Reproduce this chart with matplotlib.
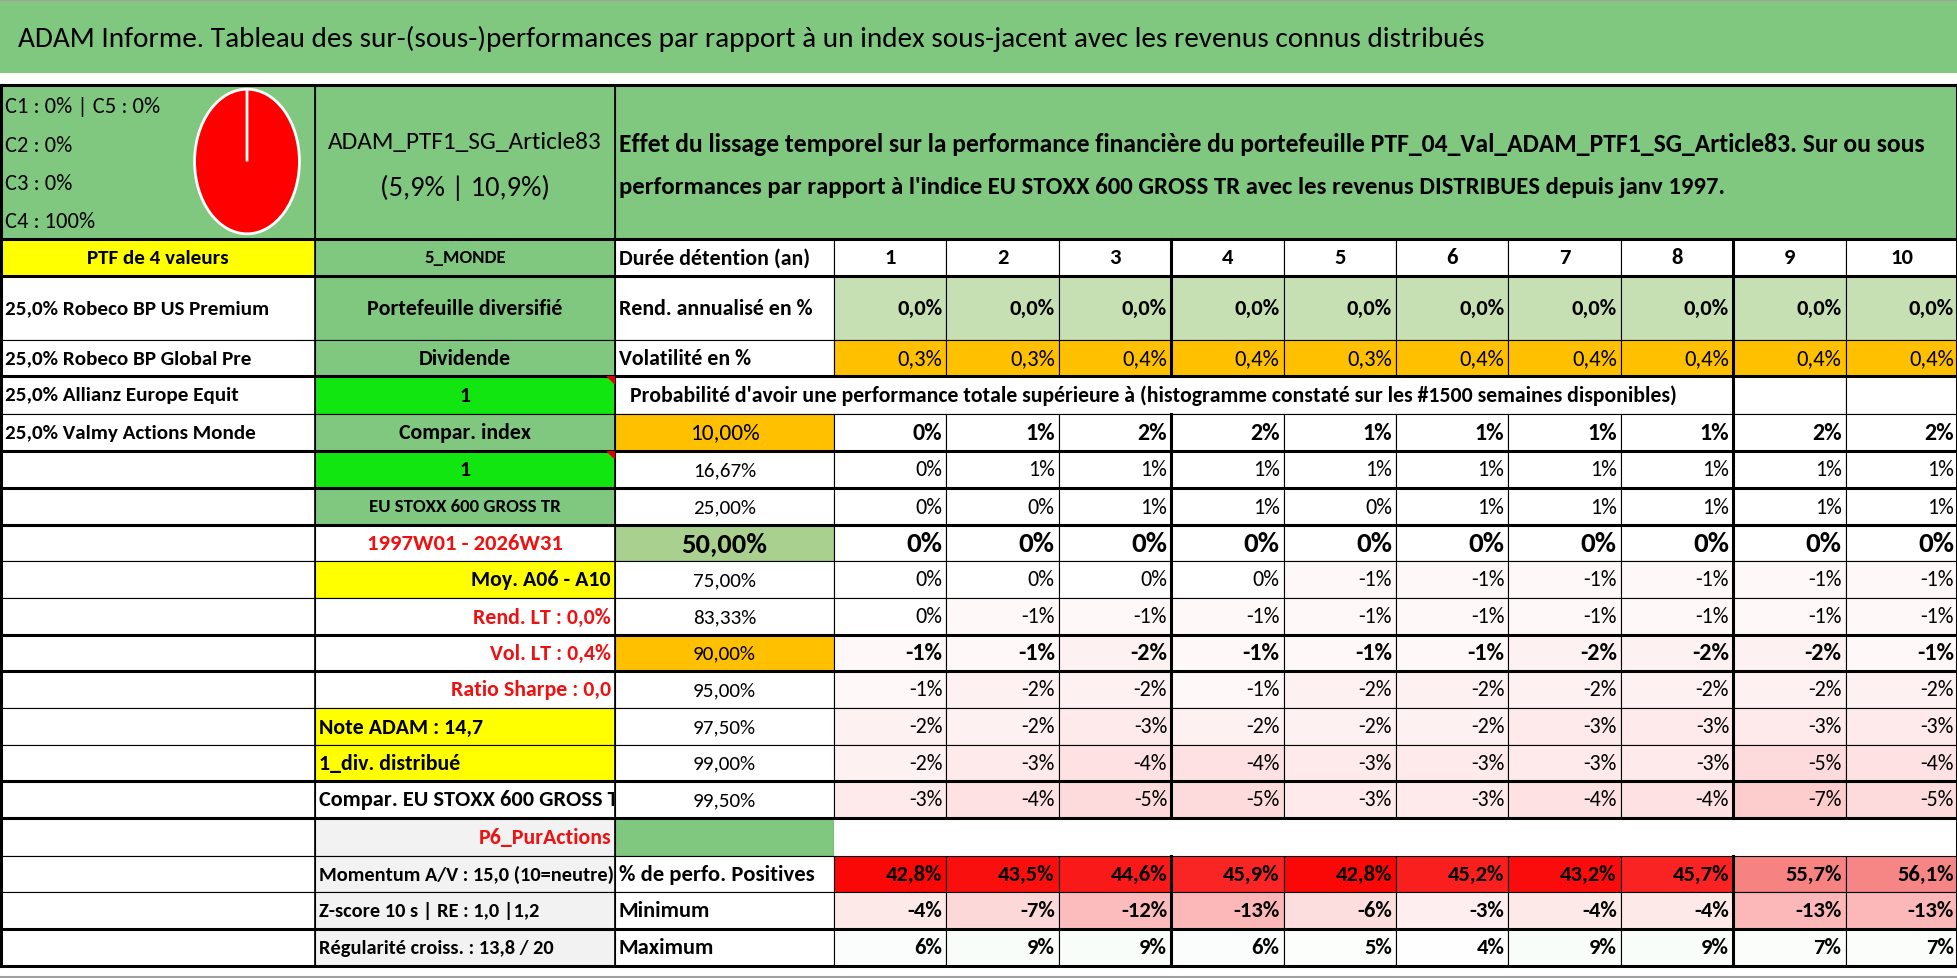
import matplotlib
matplotlib.use("Agg")
from matplotlib import pyplot as plt
from matplotlib import font_manager
from matplotlib.patches import Rectangle, Polygon
from matplotlib.transforms import Bbox

W, H = 1958, 979

installed = {f.name for f in font_manager.fontManager.ttflist}
FAMILY = "DejaVu Sans"
for cand in ["Liberation Sans Narrow", "Carlito", "Lato", "DejaVu Sans"]:
    if cand in installed:
        FAMILY = cand
        break

# ---- data ----
TITLE = ("ADAM Informe. Tableau des sur-(sous-)performances par rapport à un index "
         "sous-jacent avec les revenus connus distribués")
PTF_NAME = "ADAM_PTF1_SG_Article83"
PTF_STATS = "(5,9% | 10,9%)"
DESC = ["Effet du lissage temporel sur la performance financière du portefeuille "
        "PTF_04_Val_ADAM_PTF1_SG_Article83. Sur ou sous",
        "performances par rapport à l'indice EU STOXX 600 GROSS TR avec les revenus "
        "DISTRIBUES depuis janv 1997."]
PROBA_TEXT = ("Probabilité d'avoir une performance totale supérieure à (histogramme "
              "constaté sur les #1500 semaines disponibles)")

classes = ["C1", "C2", "C3", "C4", "C5"]
class_pct = [0, 0, 0, 100, 0]

holdings = ["Robeco BP US Premium", "Robeco BP Global Pre",
            "Allianz Europe Equit", "Valmy Actions Monde"]
weights = [25.0, 25.0, 25.0, 25.0]

years = [1, 2, 3, 4, 5, 6, 7, 8, 9, 10]
rend = [0.0, 0.0, 0.0, 0.0, 0.0, 0.0, 0.0, 0.0, 0.0, 0.0]
vol = [0.3, 0.3, 0.4, 0.4, 0.3, 0.4, 0.4, 0.4, 0.4, 0.4]

quantiles = ["10,00%", "16,67%", "25,00%", "50,00%", "75,00%", "83,33%",
             "90,00%", "95,00%", "97,50%", "99,00%", "99,50%"]
quant_vals = [
    [0, 1, 2, 2, 1, 1, 1, 1, 2, 2],
    [0, 1, 1, 1, 1, 1, 1, 1, 1, 1],
    [0, 0, 1, 1, 0, 1, 1, 1, 1, 1],
    [0, 0, 0, 0, 0, 0, 0, 0, 0, 0],
    [0, 0, 0, 0, -1, -1, -1, -1, -1, -1],
    [0, -1, -1, -1, -1, -1, -1, -1, -1, -1],
    [-1, -1, -2, -1, -1, -1, -2, -2, -2, -1],
    [-1, -2, -2, -1, -2, -2, -2, -2, -2, -2],
    [-2, -2, -3, -2, -2, -2, -3, -3, -3, -3],
    [-2, -3, -4, -4, -3, -3, -3, -3, -5, -4],
    [-3, -4, -5, -5, -3, -3, -4, -4, -7, -5],
]
pos_pct = [42.8, 43.5, 44.6, 45.9, 42.8, 45.2, 43.2, 45.7, 55.7, 56.1]
mins = [-4, -7, -12, -13, -6, -3, -4, -4, -13, -13]
maxs = [6, 9, 9, 6, 5, 4, 9, 9, 7, 7]

side_labels = ["Portefeuille diversifié", "Dividende", "1", "Compar. index", "1",
               "EU STOXX 600 GROSS TR", "1997W01 - 2026W31", "Moy. A06 - A10",
               "Rend. LT : 0,0%", "Vol. LT : 0,4%", "Ratio Sharpe : 0,0",
               "Note ADAM : 14,7", "1_div. distribué", "Compar. EU STOXX 600 GROSS TR",
               "P6_PurActions", "Momentum A/V : 15,0 (10=neutre)",
               "Z-score 10 s | RE : 1,0 |1,2", "Régularité croiss. : 13,8 / 20"]

# ---- styles ----
GREEN = "#80C880"
LIME = "#11E611"
YELLOW = "#FFFF00"
ORANGE = "#FFC000"
PALEGREEN = "#C6E0B4"
MIDGREEN = "#A9D08E"
GREY = "#F2F2F2"
RED = "#EE1111"
# (background, text colour, alignment, size) for each side label
side_styles = [(GREEN, "black", "center", 15), (GREEN, "black", "center", 15),
               (LIME, "black", "center", 15), (GREEN, "black", "center", 15),
               (LIME, "black", "center", 15), (GREEN, "black", "center", 13),
               ("white", RED, "center", 15.5), (YELLOW, "black", "right", 15),
               ("white", RED, "right", 15), ("white", RED, "right", 15),
               ("white", RED, "right", 15), (YELLOW, "black", "left", 15),
               (YELLOW, "black", "left", 15), ("white", "black", "left", 15.4),
               (GREY, RED, "right", 15), (GREY, "black", "left", 14),
               (GREY, "black", "left", 14), (GREY, "black", "left", 14)]

ROW_Y = [86, 240, 277, 341, 377, 415, 452, 489, 526, 562, 599, 636, 672, 709,
         746, 782, 819, 857, 893, 930, 967]
X1, X2, X3 = 315, 615, 834
COL_W = (W - X3) / 10
VX = [X3 + COL_W * k for k in range(11)]
THIN, THICK = 0.8, 2.2

fig = plt.figure(figsize=(W / 100, H / 100), dpi=100)
ax = fig.add_axes([0, 0, 1, 1])
ax.set_xlim(0, W)
ax.set_ylim(H, 0)
ax.axis("off")
renderer = fig.canvas.get_renderer()


def text_width(t):
    return t.get_window_extent(renderer=renderer).width


# the sheet uses a narrow font: scale every size so a known label keeps its width
_probe = ax.text(0, 0, "Rend. annualisé en %", fontsize=15, fontweight="bold",
                 family=FAMILY)
SCALE = min(1.15, 194 / text_width(_probe))
_probe.remove()


def ymid(r):
    return (ROW_Y[r] + ROW_Y[r + 1]) / 2


def cell(x0, x1, r, fc="white", lw=THIN):
    y0, y1 = ROW_Y[r], ROW_Y[r + 1]
    ax.add_patch(Rectangle((x0, y0), x1 - x0, y1 - y0, facecolor=fc,
                           edgecolor="black", linewidth=lw))


def txt(x, y, s, ha="left", size=15, bold=True, color="black", width=None):
    t = ax.text(x, y, s, ha=ha, va="center", fontsize=size * SCALE, color=color,
                fontweight="bold" if bold else "normal", family=FAMILY)
    if width is not None:
        t.set_fontsize(t.get_fontsize() * min(1.2, width / text_width(t)))
    return t


def pct(v, dec=1):
    return f"{v:.{dec}f}%".replace(".", ",")


def mix(c1, c2, t):
    t = min(max(t, 0.0), 1.0)
    return tuple((a + (b - a) * t) / 255 for a, b in zip(c1, c2))


WHITE_RGB = (255, 255, 255)
XL_RED = (248, 105, 107)
XL_GREEN = (99, 190, 123)

# title band
ax.add_patch(Rectangle((0, 2), W, 72, facecolor=GREEN, edgecolor="none"))
ax.plot([0, W], [0.5, 0.5], color="#A0A0A0", lw=1.5)
txt(18, 39, TITLE, size=20.5, bold=False, width=1470)

# row A : pie, portfolio name, description
cell(0, X1, 0, GREEN)
cell(X1, X2, 0, GREEN)
cell(X2, W, 0, GREEN)
c_lines = [f"{classes[0]} : {class_pct[0]}% | {classes[4]} : {class_pct[4]}%",
           f"{classes[1]} : {class_pct[1]}%", f"{classes[2]} : {class_pct[2]}%",
           f"{classes[3]} : {class_pct[3]}%"]
first = txt(5, 107, c_lines[0], size=15.5, bold=False, width=155)
for y, s in zip([146, 184, 222], c_lines[1:]):
    t = txt(5, y, s, bold=False)
    t.set_fontsize(first.get_fontsize())
pie_ax = fig.add_axes([193 / W, 1 - 237 / H, 108 / W, 149 / H])
pie_ax.pie(class_pct, colors=["#4472C4", "#ED7D31", "#A5A5A5", "#FF0000", "#5B9BD5"],
           startangle=90, counterclock=False,
           wedgeprops=dict(edgecolor="white", linewidth=2))
pie_ax.set_aspect("auto")
pie_ax.set_xlim(-1.03, 1.03)
pie_ax.set_ylim(-1.03, 1.03)
txt((X1 + X2) / 2, 143, PTF_NAME, ha="center", size=19.5, bold=False, width=274)
txt((X1 + X2) / 2, 188, PTF_STATS, ha="center", size=19.5, bold=False)
txt(619, 144, DESC[0], size=17, width=1306)
txt(619, 187, DESC[1], size=17, width=1105)

# row B : headers
cell(0, X1, 1, YELLOW)
txt(X1 / 2, ymid(1), "PTF de 4 valeurs", ha="center", size=14.5)
cell(X1, X2, 1, GREEN)
txt((X1 + X2) / 2, ymid(1), "5_MONDE", ha="center", size=13)
cell(X2, X3, 1)
txt(X2 + 4, ymid(1), "Durée détention (an)", size=15)
for k, yr in enumerate(years):
    cell(VX[k], VX[k + 1], 1)
    txt((VX[k] + VX[k + 1]) / 2, ymid(1), str(yr), ha="center", size=15.5)

# column 0 : holdings then empty cells
for r in range(2, 20):
    cell(0, X1, r)
for r, (w, name) in enumerate(zip(weights, holdings), start=2):
    txt(5, ymid(r), f"{pct(w)} {name}", size=14.5)

# column 1 : side labels (clipped to their cell, as in the sheet)
for r, (s, (fc, col, ha, size)) in enumerate(zip(side_labels, side_styles), start=2):
    cell(X1, X2, r, fc)
    x = {"left": X1 + 4, "center": (X1 + X2) / 2, "right": X2 - 4}[ha]
    t = txt(x, ymid(r), s, ha=ha, size=size, color=col)
    p0 = ax.transData.transform((X1, ROW_Y[r + 1]))
    p1 = ax.transData.transform((X2 - 1, ROW_Y[r]))
    t.set_clip_box(Bbox([p0, p1]))
    t.set_clip_on(True)
# comment markers on the two green "1" cells
for r in (4, 6):
    ax.add_patch(Polygon([(X2 - 9, ROW_Y[r]), (X2, ROW_Y[r]), (X2, ROW_Y[r] + 9)],
                         closed=True, facecolor="#E00000", edgecolor="none", zorder=7))

# annualised return / volatility
cell(X2, X3, 2)
txt(X2 + 4, ymid(2), "Rend. annualisé en %", size=15)
cell(X2, X3, 3)
txt(X2 + 4, ymid(3), "Volatilité en %", size=15)
for k in range(10):
    cell(VX[k], VX[k + 1], 2, PALEGREEN)
    txt(VX[k + 1] - 4, ymid(2), pct(rend[k]), ha="right", size=15.5)
    cell(VX[k], VX[k + 1], 3, ORANGE)
    txt(VX[k + 1] - 4, ymid(3), pct(vol[k]), ha="right", size=15.5, bold=False)

# probability title row
cell(X2, VX[8], 4)
txt(630, ymid(4), PROBA_TEXT, size=15, width=1047)
cell(VX[8], VX[9], 4)
cell(VX[9], VX[10], 4)

# quantile block
q_bg = {0: ORANGE, 3: MIDGREEN, 6: ORANGE}
q_lab_size = {0: 16, 3: 19.5}
q_val_style = {0: (16.5, True), 3: (20, True), 6: (16.5, True)}
for i, (lab, vals) in enumerate(zip(quantiles, quant_vals)):
    r = 5 + i
    cell(X2, X3, r, q_bg.get(i, "white"))
    txt((X2 + X3) / 2, ymid(r), lab, ha="center", size=q_lab_size.get(i, 14.5),
        bold=(i == 3))
    size, bold = q_val_style.get(i, (15, False))
    for k, v in enumerate(vals):
        fc = mix(WHITE_RGB, XL_RED, -v / 21) if v < 0 else "white"
        cell(VX[k], VX[k + 1], r, fc)
        txt(VX[k + 1] - 4, ymid(r), f"{v}%", ha="right", size=size, bold=bold)

# P6 row
cell(X2, X3, 16, GREEN)
ax.add_patch(Rectangle((X3, ROW_Y[16]), W - X3, ROW_Y[17] - ROW_Y[16],
                       facecolor="white", edgecolor="none"))

# positives / minimum / maximum
lo, hi = min(pos_pct), max(pos_pct)
for r, lab in zip((17, 18, 19), ("% de perfo. Positives", "Minimum", "Maximum")):
    cell(X2, X3, r)
    txt(X2 + 4, ymid(r), lab, size=15.5)
for k in range(10):
    fc = mix((250, 8, 8), (246, 134, 134), (pos_pct[k] - lo) / (hi - lo))
    cell(VX[k], VX[k + 1], 17, fc)
    txt(VX[k + 1] - 4, ymid(17), pct(pos_pct[k]), ha="right", size=15.5)
    cell(VX[k], VX[k + 1], 18, mix(WHITE_RGB, XL_RED, -mins[k] / 27))
    txt(VX[k + 1] - 4, ymid(18), f"{mins[k]}%", ha="right", size=15.5)
    cell(VX[k], VX[k + 1], 19, mix(WHITE_RGB, XL_GREEN, maxs[k] / 250))
    txt(VX[k + 1] - 4, ymid(19), f"{maxs[k]}%", ha="right", size=15.5)

# heavy rules
for y in [86, 240, 277, 377, 452, 489, 526, 636, 672, 782, 819, 930, 967]:
    ax.plot([0, W], [y, y], color="black", lw=THICK, solid_capstyle="butt", zorder=6)
ax.plot([1, 1], [86, 967], color="black", lw=THICK, zorder=6)
ax.plot([W - 1, W - 1], [86, 967], color="black", lw=THICK, zorder=6)
for x in (X1, X2):
    ax.plot([x, x], [86, 967], color="black", lw=1.2, zorder=6)
spans = {VX[3]: [(240, 377), (415, 819), (857, 967)],
         VX[8]: [(240, 819), (857, 967)]}
for x, segs in spans.items():
    for y0, y1 in segs:
        ax.plot([x, x], [y0, y1], color="black", lw=THICK, zorder=6)
ax.plot([0, W], [H - 1, H - 1], color="#A0A0A0", lw=1.5)

fig.savefig("out.png", dpi=100)
